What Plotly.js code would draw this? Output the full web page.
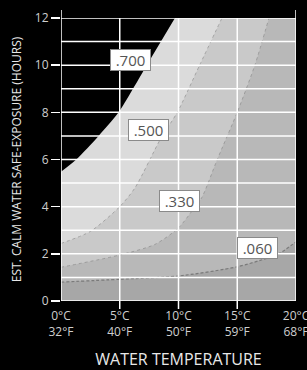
<!DOCTYPE html>
<html><head><meta charset="utf-8">
<script src="https://cdn.plot.ly/plotly-3.0.1.min.js"></script>
<style>html,body{margin:0;padding:0;background:#000;}#chart{width:307px;height:370px;}</style>
</head><body><div id="chart"></div>
<script>
// ---- data ----
const tempC = [0, 5, 10, 15, 20];
const tempF = [32, 40, 50, 59, 68];
const hourTicks = [0, 2, 4, 6, 8, 10, 12];
const hourGrid = [0, 1, 2, 3, 4, 5, 6, 7, 8, 9, 10, 11, 12];
const xRange = [0, 20];
const yRange = [0, 12];

const curveNames = ['.060', '.330', '.500', '.700'];
const c060x = [0, 5, 10, 15, 17.5, 18.6, 20];
const c060y = [0.8, 0.92, 1.06, 1.45, 1.81, 2.02, 2.51];
const c330x = [0, 5, 8, 10, 11.2, 12, 13.3, 15, 16.5, 17.7];
const c330y = [1.43, 1.95, 2.4, 3.1, 3.85, 4.4, 6.0, 8.0, 10.0, 12.0];
const c500x = [0, 2.5, 5, 6.3, 8.5, 9.9, 11.8, 13.7];
const c500y = [2.44, 2.95, 4.0, 4.8, 6.9, 8.0, 10.0, 12.0];
const c700x = [0, 1.3, 3.2, 4.9, 7.3, 9.7];
const c700y = [5.48, 6.0, 7.0, 8.0, 10.0, 12.0];

// ---- build ----
const curves = [[c060x, c060y], [c330x, c330y], [c500x, c500y], [c700x, c700y]];
const fills = ['#b8b8b8', '#c9c9c9', '#dbdbdb', '#000000'];
const traces = [];
curves.forEach((c, i) => {
  traces.push({x: xRange.slice(), y: [yRange[1], yRange[1]], mode: 'lines',
    line: {width: 0}, hoverinfo: 'skip', showlegend: false});
  traces.push({x: c[0], y: c[1], mode: 'lines', name: curveNames[i],
    line: {width: 0, shape: 'spline', smoothing: 0.7}, fill: 'tonexty',
    fillcolor: fills[i], hoverinfo: 'skip', showlegend: false});
});
const lineStyles = [
  {color: '#7a7a7a', width: 1.2, dash: '3px,2px'},
  {color: '#9c9c9c', width: 1, dash: 'dot'},
  {color: '#a4a4a4', width: 1, dash: 'dot'}
];
[0, 1, 2].forEach(i => {
  traces.push({x: curves[i][0], y: curves[i][1], mode: 'lines',
    line: Object.assign({shape: 'spline', smoothing: 0.7}, lineStyles[i]),
    hoverinfo: 'skip', showlegend: false});
});

const shapes = [];
hourGrid.forEach(h => shapes.push({type: 'line', layer: 'above', xref: 'paper', yref: 'y',
  x0: 0, x1: 1, y0: h, y1: h, line: {color: '#ffffff', width: 1.5}}));
tempC.forEach((t, i) => {
  const edge = (i === 0 || i === tempC.length - 1);
  shapes.push({type: 'line', layer: 'above', xref: 'x', yref: 'paper',
    x0: t, x1: t, y0: edge ? 0 : -8 / 283, y1: edge ? 1 + 8 / 283 : 1,
    line: {color: '#ffffff', width: 1.5}});
});

const labelPos = [[16.72, 2.25], [10.06, 4.26], [7.47, 7.23], [5.94, 10.2]];
const annotations = curveNames.map((n, i) => ({
  x: labelPos[i][0], y: labelPos[i][1], xref: 'x', yref: 'y', text: n, showarrow: false,
  bgcolor: '#ffffff', bordercolor: '#8a8a8a', borderwidth: 1, borderpad: 1,
  width: 37, height: 18, font: {family: 'Open Sans', size: 15, color: '#555555'}
}));

const layout = {
  width: 307, height: 370,
  margin: {l: 61, r: 11, t: 18, b: 69},
  paper_bgcolor: '#000000', plot_bgcolor: '#a7a7a7',
  showlegend: false,
  font: {family: 'Open Sans', color: '#d0d0d0'},
  xaxis: {range: xRange, tickvals: tempC,
    ticktext: tempC.map((c, i) => c + '°C<br>' + tempF[i] + '°F'),
    ticks: 'outside', ticklen: 4, tickcolor: 'rgba(0,0,0,0)',
    ticklabeloverflow: 'allow',
    showgrid: false, zeroline: false, showline: false, fixedrange: true,
    tickfont: {family: 'Open Sans', size: 12, color: '#cfcfcf'},
    title: {text: 'WATER TEMPERATURE', font: {family: 'Open Sans', size: 16, color: '#e8e8e8'}, standoff: 18}},
  yaxis: {range: yRange, tickvals: hourTicks, ticks: 'outside', ticklen: 9,
    tickcolor: '#ffffff', tickwidth: 1.5,
    showgrid: false, zeroline: false, showline: false, fixedrange: true,
    tickfont: {family: 'Open Sans', size: 12, color: '#cfcfcf'},
    title: {text: 'EST. CALM WATER SAFE-EXPOSURE (HOURS)', font: {family: 'Open Sans', size: 12, color: '#e8e8e8'}, standoff: 10}},
  shapes: shapes,
  annotations: annotations
};
Plotly.newPlot('chart', traces, layout, {displayModeBar: false, staticPlot: true});
</script></body></html>
